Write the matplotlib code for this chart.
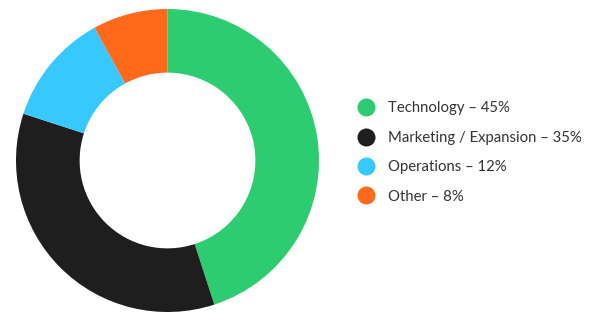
import matplotlib.pyplot as plt
from matplotlib.lines import Line2D

categories = ["Technology", "Marketing / Expansion", "Operations", "Other"]
shares = [45, 35, 12, 8]
colors = ["#2ECC71", "#1E1E1E", "#36C8FF", "#FF691C"]

plt.rcParams["font.family"] = ["Lato", "DejaVu Sans"]

W, H = 611, 326
fig = plt.figure(figsize=(W / 100, H / 100), dpi=100)

# donut: centre ~(167.5, 160.5) px, outer radius ~151.5 px
r_px = 151.5
ax = fig.add_axes([(167.5 - r_px) / W, (H - 160.5 - r_px) / H, 2 * r_px / W, 2 * r_px / H])
ax.pie(shares, colors=colors, startangle=90, counterclock=False, radius=1,
       wedgeprops=dict(width=0.42, linewidth=0))
ax.set_xlim(-1, 1)
ax.set_ylim(-1, 1)
ax.set_aspect("equal")
ax.axis("off")

fs = 14.9 * 72 / 100
handles = [Line2D([], [], marker="o", linestyle="none", markersize=18 * 0.72,
                  markerfacecolor=c, markeredgewidth=0) for c in colors]
labels = [f"{c} \u2013 {s}%" for c, s in zip(categories, shares)]
leg = fig.legend(handles, labels, loc="center left",
                 bbox_to_anchor=(357 / W, (H - 152.5) / H),
                 frameon=False, borderpad=0, borderaxespad=0,
                 handlelength=1.2, handletextpad=0.87, labelspacing=1.03,
                 prop=dict(size=fs))
for t in leg.get_texts():
    t.set_color("#333333")

fig.savefig("out.png", dpi=100)
